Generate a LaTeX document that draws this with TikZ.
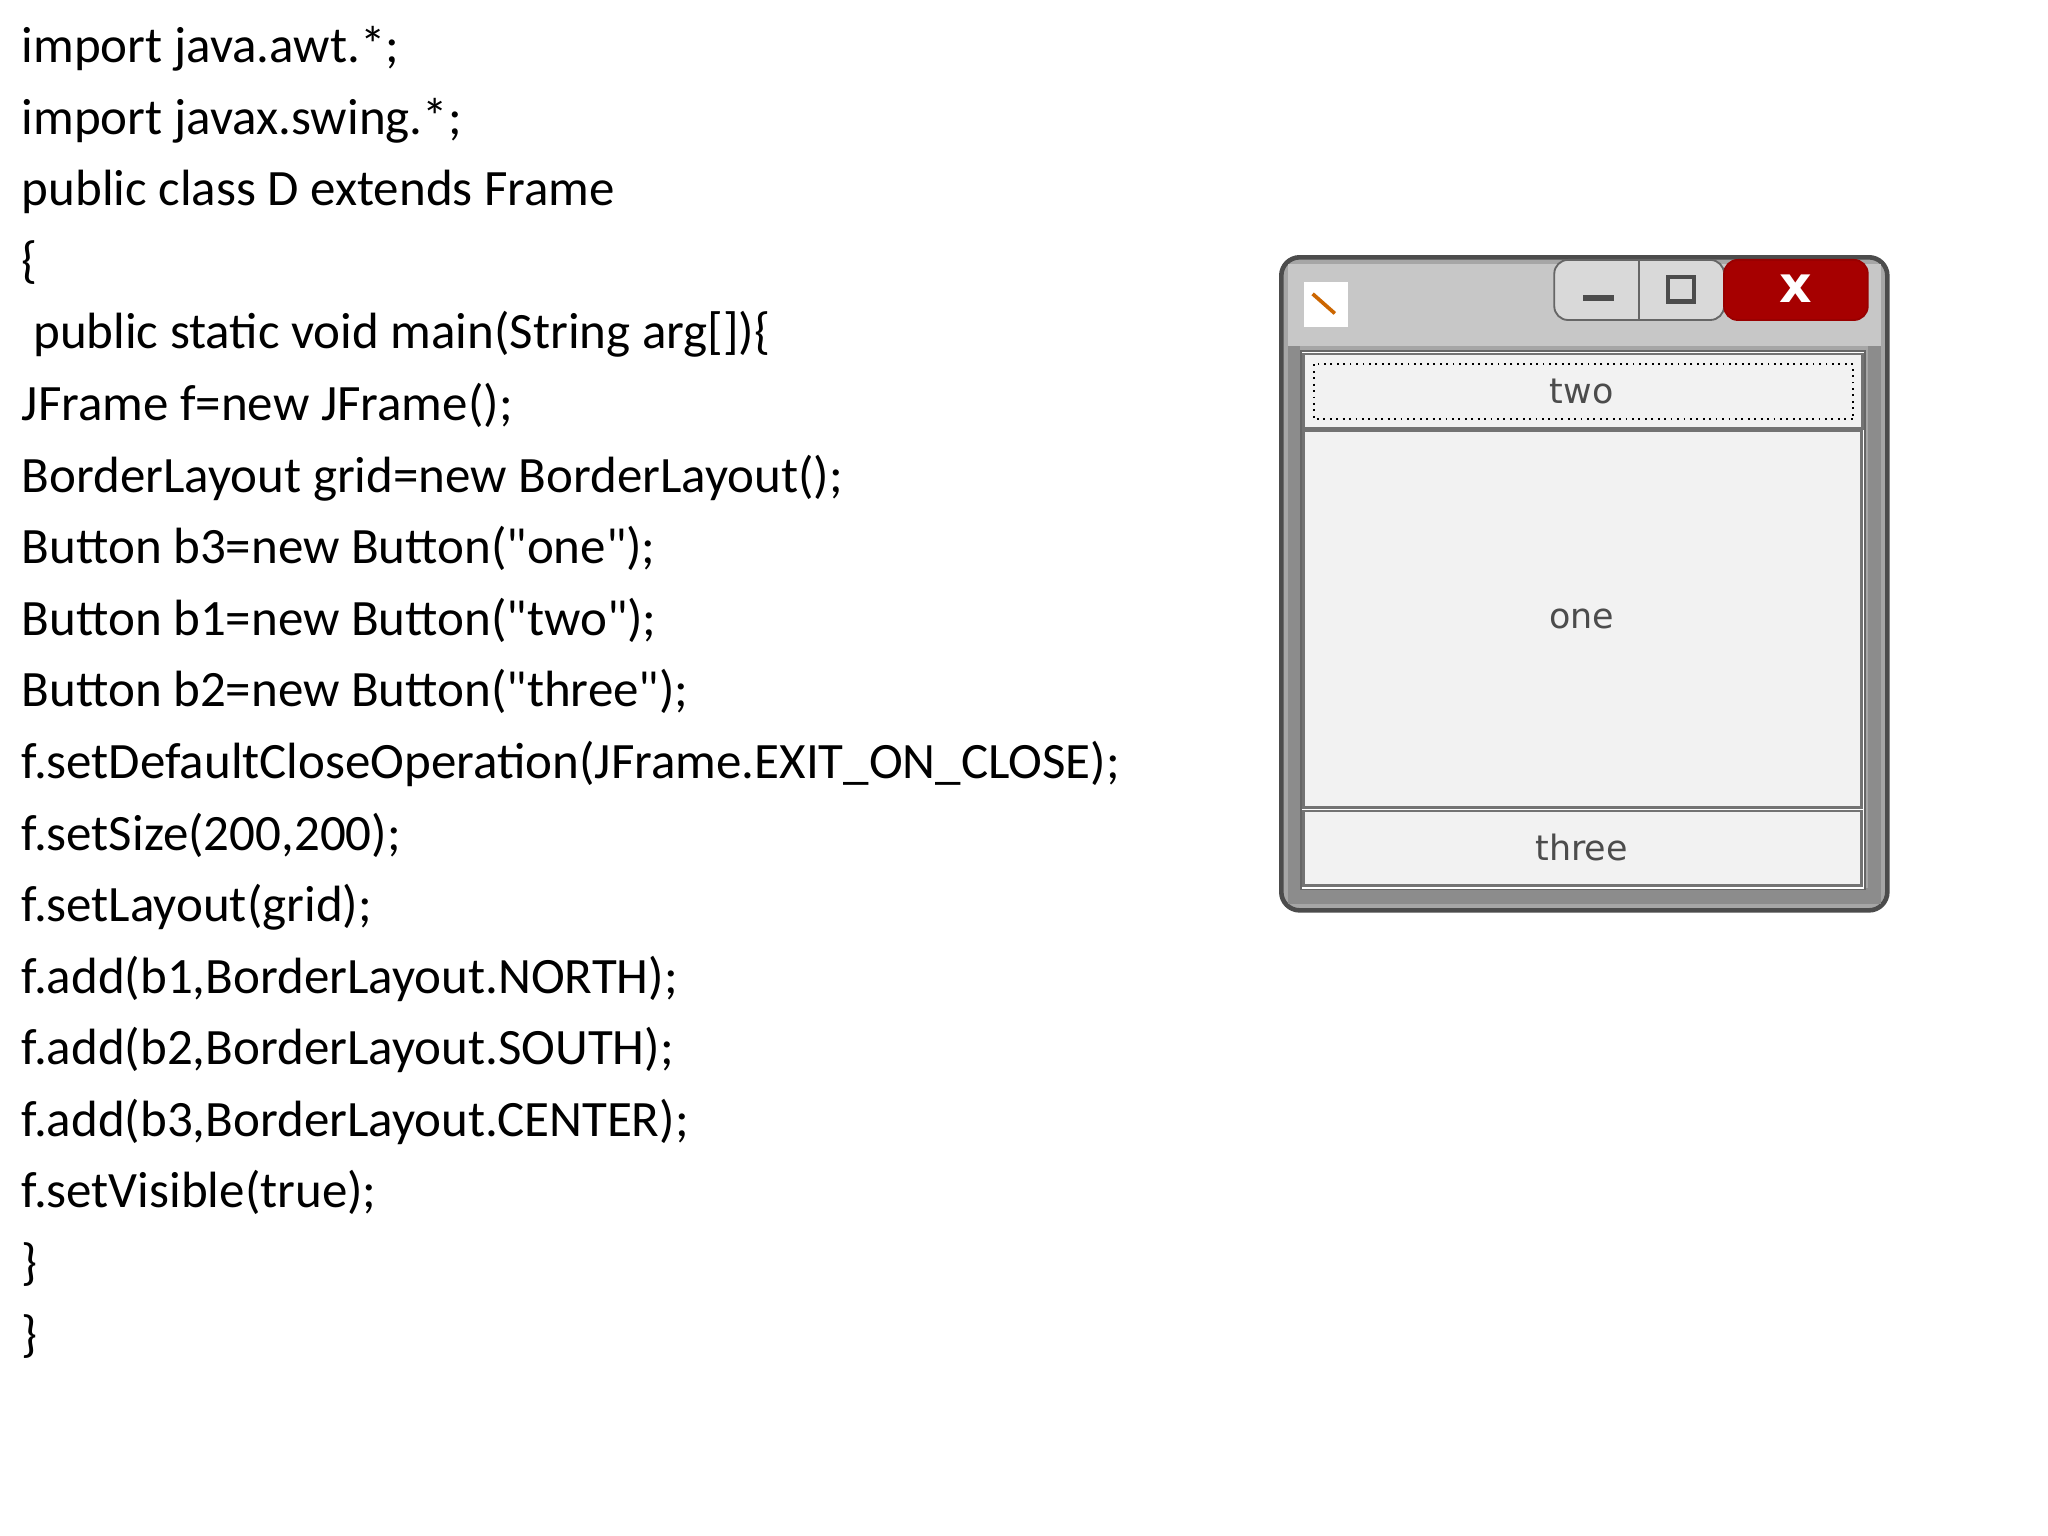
\documentclass[tikz,border=0pt]{standalone}
\usepackage{fontspec}
\setmainfont[Ligatures=TeXOff]{Carlito}
\newfontfamily\winfont{DejaVu Sans}
\newcommand{\dq}{\symbol{34}}
\begin{document}
\begin{tikzpicture}[x=0.01cm,y=-0.01cm,
 code/.style={anchor=base west,inner sep=0pt,font=\fontsize{11.1pt}{12pt}\selectfont},
 btn/.style={draw=black!55,line width=0.6pt,fill=black!5},
 btxt/.style={font=\winfont\fontsize{7.6pt}{9pt}\selectfont,text=black!70}]
\useasboundingbox (0,0) rectangle (1568,1176);
\fill[white] (0,0) rectangle (1568,1176);
\foreach \t [count=\i] in {import java.awt.*;,import javax.swing.*;,public class D extends Frame,\{,\ public static void main(String arg[]){\{},JFrame f=new JFrame();,BorderLayout grid=new BorderLayout();,Button b3=new Button(\dq one\dq);,Button b1=new Button(\dq two\dq);,Button b2=new Button(\dq three\dq);,f.setDefaultCloseOperation(JFrame.EXIT\_ON\_CLOSE);,{f.setSize(200,200);},f.setLayout(grid);,{f.add(b1,BorderLayout.NORTH);},{f.add(b2,BorderLayout.SOUTH);},{f.add(b3,BorderLayout.CENTER);},f.setVisible(true);,\},\}}
  \node[code] (l\i) at (16,{48+(\i-1)*54.8}) {\t};
% window
\draw[black!70,line width=1pt,fill=black!35,rounded corners=4] (981,197) rectangle (1445,697);
\fill[black!22] (986,202) rectangle (1440,265);
\fill[black!45] (986,265) rectangle (995,692);
\fill[black!45] (1430,265) rectangle (1440,692);
\fill[black!45] (986,680) rectangle (1440,692);
\fill[white] (998,216) rectangle (1032,250);
\draw[orange!80!black,line width=0.8pt] (1005,225) -- (1022,240);
% title buttons
\draw[black!60,fill=black!15,rounded corners=3] (1190,199) rectangle (1320,245);
\draw[black!60] (1255,199) -- (1255,245);
\draw[red!60!black,fill=red!65!black,rounded corners=3] (1320,199) rectangle (1430,245);
\draw[black!70,line width=1.2pt] (1212,228) -- (1236,228);
\draw[black!70,line width=1pt] (1277,212) rectangle (1297,231);
\node[font=\winfont\bfseries\fontsize{11pt}{12pt}\selectfont,text=white] (cl) at (1375,221) {x};
% content
\draw[black!60,fill=white] (996,269) rectangle (1428,681);
\draw[btn] (998,271) rectangle (1426,328);
\draw[black,densely dotted] (1006,279) rectangle (1419,321);
\node[btxt] (two) at (1211,300) {two};
\draw[btn] (998,330) rectangle (1425,618);
\node[btxt] (one) at (1211,474) {one};
\draw[btn] (998,621) rectangle (1425,678);
\node[btxt] (three) at (1211,649) {three};
\end{tikzpicture}
\end{document}
